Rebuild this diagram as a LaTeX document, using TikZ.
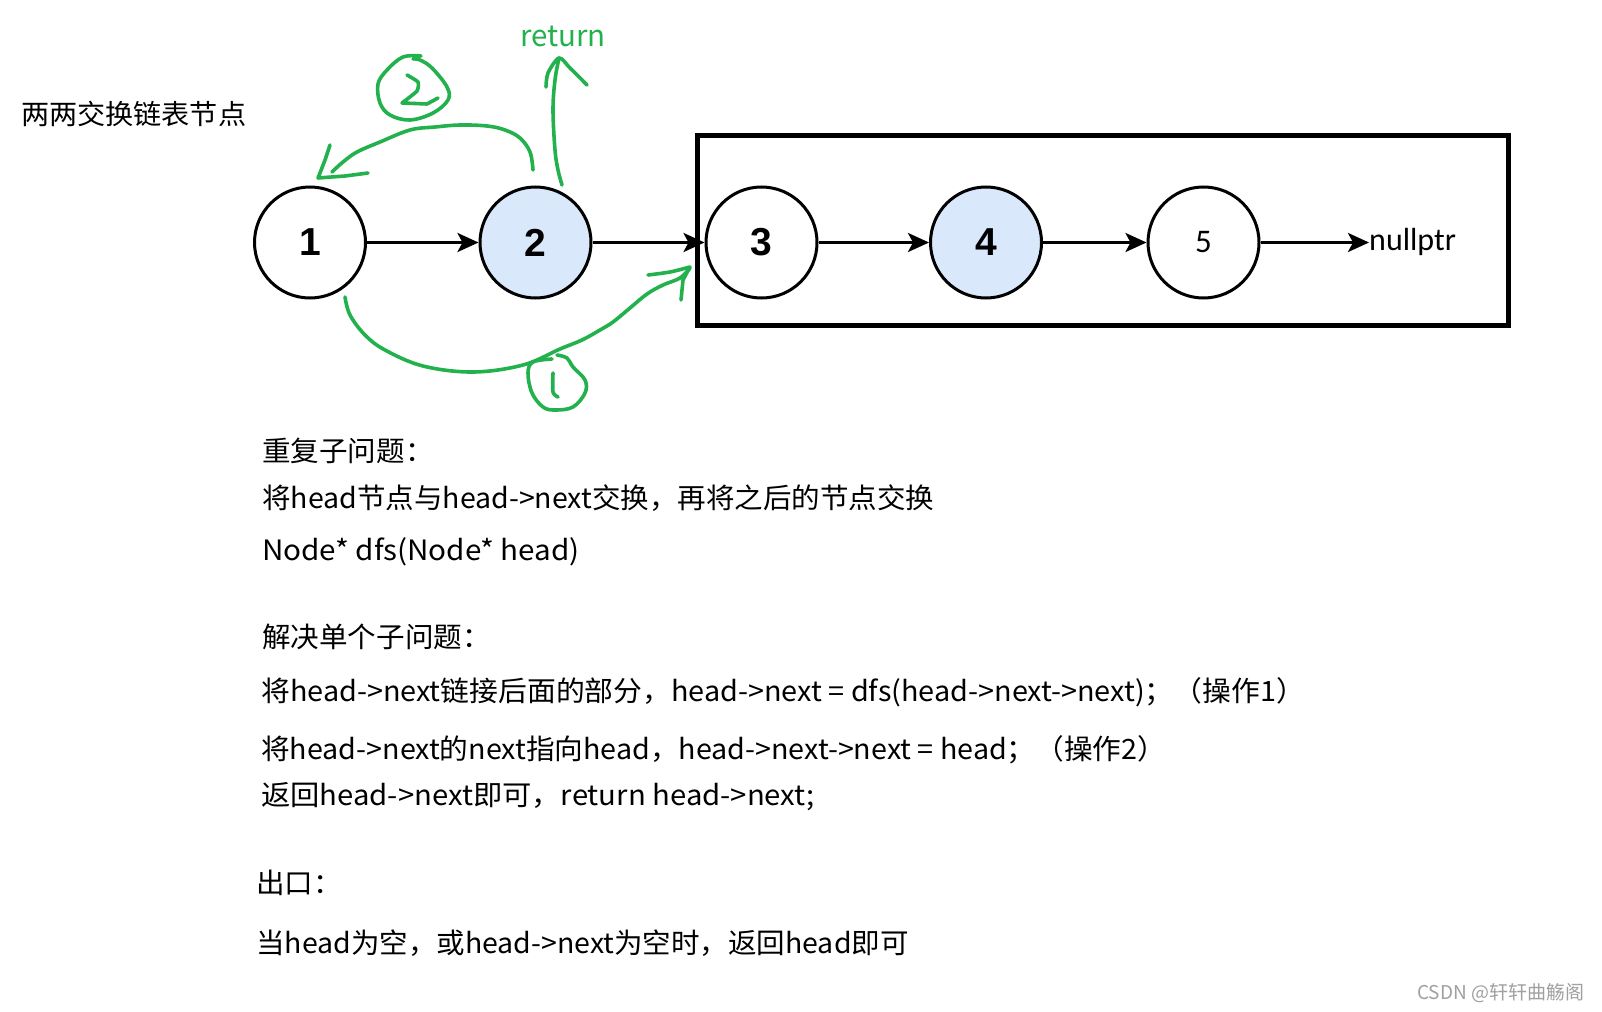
\documentclass[tikz,border=0pt]{standalone}
\usepackage{graphicx}
\usepackage{fontspec}
\setmainfont{Noto Sans CJK SC}
\newfontfamily\numfont{Liberation Sans}
\newfontfamily\calfont{Carlito}
\usetikzlibrary{arrows.meta}
\definecolor{greenpen}{RGB}{34,177,76}
\definecolor{nodeblue}{RGB}{218,232,252}
\definecolor{wmgray}{RGB}{160,160,160}
\begin{document}
\begin{tikzpicture}[x=1pt,y=-1pt,
  circnode/.style={circle,draw=black,line width=3pt,minimum size=111pt,inner sep=0pt,fill=white},
  bnum/.style={font=\numfont\bfseries\fontsize{39}{39}\selectfont},
  link/.style={line width=3pt,-{Stealth[length=21pt,width=19pt,inset=5pt]}},
  scribble/.style={draw=greenpen,line width=3.6pt,line cap=round,line join=round},
  txt/.style={anchor=base west,inner sep=0pt,font=\fontsize{28}{28}\selectfont},
]
\fill[white] (0,0) rectangle (1602,1011);
\useasboundingbox (0,0) rectangle (1602,1011);

% box around rest of list
\node[draw=black,line width=5pt,minimum width=811pt,minimum height=189pt,inner sep=0pt] (box) at (1102.5,230.5) {};

% list nodes
\node[circnode,bnum] (n1) at (310,242.5) {1};
\node[circnode,bnum,fill=nodeblue] (n2) at (535.5,242.5) {2};
\node[circnode,bnum] (n3) at (761.5,242.5) {3};
\node[circnode,bnum,fill=nodeblue] (n4) at (986,242.5) {4};
\node[circnode,font=\calfont\fontsize{33}{33}\selectfont] (n5) at (1203.5,242.5) {5};
\node[anchor=base west,inner sep=0pt,font=\calfont\fontsize{32}{32}\selectfont] (null) at (1369,250) {nullptr};

\draw[link] (n1) -- (n2);
\draw[link] (n2) -- (n3);
\draw[link] (n3) -- (n4);
\draw[link] (n4) -- (n5);
\draw[link] (n5.east) -- (null.west |- n5.east);

% title
\node[txt,font=\fontsize{27.5}{27.5}\selectfont] (title) at (21,124.5) {\scalebox{1.023}[1]{两两交换链表节点}};

% green annotations
\node[anchor=base west,inner sep=0pt,text=greenpen,font=\fontsize{29.5}{29.5}\selectfont] (ret) at (520,47) {return};

% arc (2): from node 2 back to node 1
\draw[scribble] plot[smooth,tension=0.6] coordinates {(533,170) (530,152) (520,138) (505,130) (487,126) (460,125) (435,127) (410,130) (380,142) (357,152) (343,162) (332,172)};
\draw[scribble] plot[smooth,tension=0.5] coordinates {(330,145) (325,160) (318,178)} -- (345,176) -- (368,173);
% circled 2
\draw[scribble] plot[smooth,tension=0.6] coordinates {(421,56) (403,57) (387,70) (378,84) (380,103) (390,115) (410,120) (433,113) (448,100) (447,87) (432,68) (420,60) (413,59)};
\draw[scribble] plot[smooth,tension=0.3] coordinates {(407,75) (418,82) (417,91) (402,103)} -- (427,104) -- (438,98);

% return arrow
\draw[scribble] plot[smooth,tension=0.6] coordinates {(562,185) (558,170) (555,150) (553,110) (555,80) (559,58)};
\draw[scribble] plot[smooth,tension=0.5] coordinates {(546,87) (548,73) (559,58) (570,68) (587,85)};

% arc (1): from node 1 below to node 3
\draw[scribble] plot[smooth,tension=0.6] coordinates {(345,297) (350,315) (365,335) (385,350) (423,366) (473,372) (523,365) (560,349) (582,340) (600,330) (613,322) (630,308) (647,294) (663,285) (680,278) (690,268)};
\draw[scribble] plot[smooth,tension=0.5] coordinates {(648,275) (670,272) (690,267)} -- (683,280) -- (681,300);
% circled 1
\draw[scribble] plot[smooth,tension=0.6] coordinates {(552,359) (533,362) (528,373) (532,393) (543,407) (555,410) (573,407) (585,393) (585,380) (573,367) (567,358) (557,355)};
\draw[scribble] plot[smooth,tension=0.5] coordinates {(553,373) (553,392) (558,397)};

% explanatory text
\node[txt] (t1) at (262,461) {\scalebox{1.02}[1]{重复子问题：}};
\node[txt] (t2) at (262,508) {\scalebox{1.019}[1]{将head节点与head->next交换，再将之后的节点交换}};
\node[txt] (t3) at (262,560) {\scalebox{1.058}[1]{Node* dfs(Node* head)}};
\node[txt] (t4) at (262,647) {\scalebox{1.02}[1]{解决单个子问题：}};
\node[txt] (t5) at (261,701) {\scalebox{1.029}[1]{将head->next链接后面的部分，head->next = dfs(head->next->next)；（操作1）}};
\node[txt] (t6) at (261,759) {\scalebox{1.024}[1]{将head->next的next指向head，head->next->next = head；（操作2）}};
\node[txt] (t7) at (261,805) {\scalebox{1.046}[1]{返回head->next即可，return head->next;}};
\node[txt] (t8) at (256,893) {\scalebox{1.02}[1]{出口：}};
\node[txt] (t9) at (256,953) {\scalebox{1.018}[1]{当head为空，或head->next为空时，返回head即可}};

% watermark
\node[anchor=base west,inner sep=0pt,text=wmgray,font=\fontsize{19}{19}\selectfont] (wm) at (1417,999) {CSDN @轩轩曲觞阁};
\end{tikzpicture}
\end{document}
